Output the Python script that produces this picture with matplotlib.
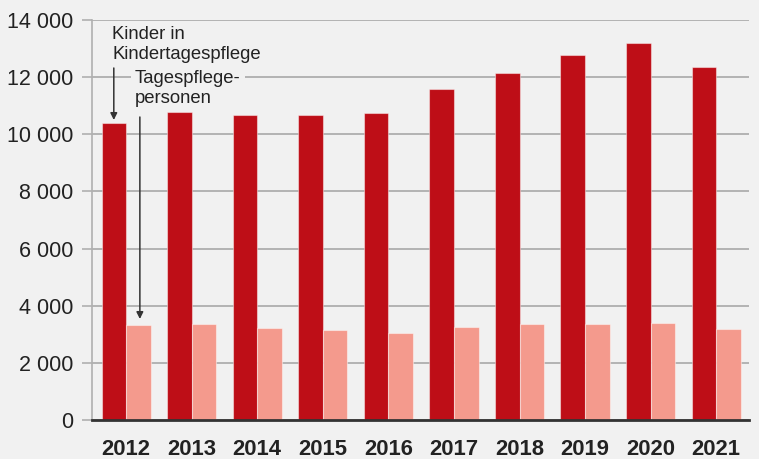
import matplotlib
matplotlib.use("Agg")
import matplotlib.pyplot as plt
import numpy as np

years = ["2012", "2013", "2014", "2015", "2016", "2017", "2018", "2019", "2020", "2021"]
kinder = [10400, 10770, 10680, 10680, 10730, 11590, 12130, 12780, 13210, 12360]
personen = [3340, 3360, 3220, 3150, 3060, 3270, 3360, 3370, 3410, 3200]
yticks = [0, 2000, 4000, 6000, 8000, 10000, 12000, 14000]
ytick_labels = ["0", "2 000", "4 000", "6 000", "8 000", "10 000", "12 000", "14 000"]

plt.rcParams['font.family'] = ['Liberation Sans', 'DejaVu Sans']
bg = "#f1f1f1"
dark = "#be0e17"
light = "#f49a8d"

fig = plt.figure(figsize=(7.59, 4.59), dpi=100, facecolor=bg)
ax = fig.add_axes([92/759, 39/459, (749-92)/759, 400/459])
ax.set_facecolor(bg)

x = np.arange(len(years))
w = 0.375
ax.bar(x - w/2, kinder, width=w, color=dark, edgecolor=(1, 1, 1, 0.45), linewidth=0.8, zorder=3)
ax.bar(x + w/2, personen, width=w, color=light, edgecolor=(1, 1, 1, 0.45), linewidth=0.8, zorder=3)

ax.set_xlim(-0.52, 9.5)
ax.set_ylim(0, 14000)
ax.set_yticks(yticks)
ax.set_yticklabels(ytick_labels, fontsize=15.5, color="#222222")
ax.set_xticks(x)
ax.set_xticklabels(years, fontsize=15.8, fontweight="bold", color="#222222")
ax.tick_params(axis="x", length=0, pad=14)
ax.tick_params(axis="y", length=7, width=1.2, color="#b0b0b0", pad=6.5)
ax.yaxis.grid(True, color="#b3b3b3", linewidth=1.4, zorder=1)
ax.set_axisbelow(True)
for s in ["top", "right"]:
    ax.spines[s].set_visible(False)
ax.spines["left"].set_color("#b0b0b0")
ax.spines["left"].set_linewidth(1.2)
ax.spines["bottom"].set_color("#333333")
ax.spines["bottom"].set_linewidth(2)
ax.spines["bottom"].set_zorder(4)

def py2v(py):
    return (420 - py) / 400 * 14000

ax.text(-0.213, py2v(26), "Kinder in\nKindertagespflege", fontsize=13.3, color="#222222",
        va="top", ha="left", linespacing=1.25, zorder=5)
ax.annotate("", xy=(-w/2, py2v(120)), xytext=(-w/2, py2v(68)),
            arrowprops=dict(arrowstyle="-|>", color="#333333", lw=1.1, mutation_scale=10,
                            shrinkA=0, shrinkB=0), zorder=5)
ax.text(0.137, py2v(70), "Tagespflege-\npersonen", fontsize=13.3, color="#222222",
        va="top", ha="left", linespacing=1.25, zorder=5,
        bbox=dict(boxstyle="square,pad=0.2", facecolor=bg, edgecolor="none"))
ax.annotate("", xy=(0.21, py2v(319)), xytext=(0.21, py2v(117)),
            arrowprops=dict(arrowstyle="-|>", color="#333333", lw=1.1, mutation_scale=10,
                            shrinkA=0, shrinkB=0), zorder=5)

fig.savefig("out.png", dpi=100, facecolor=bg)
